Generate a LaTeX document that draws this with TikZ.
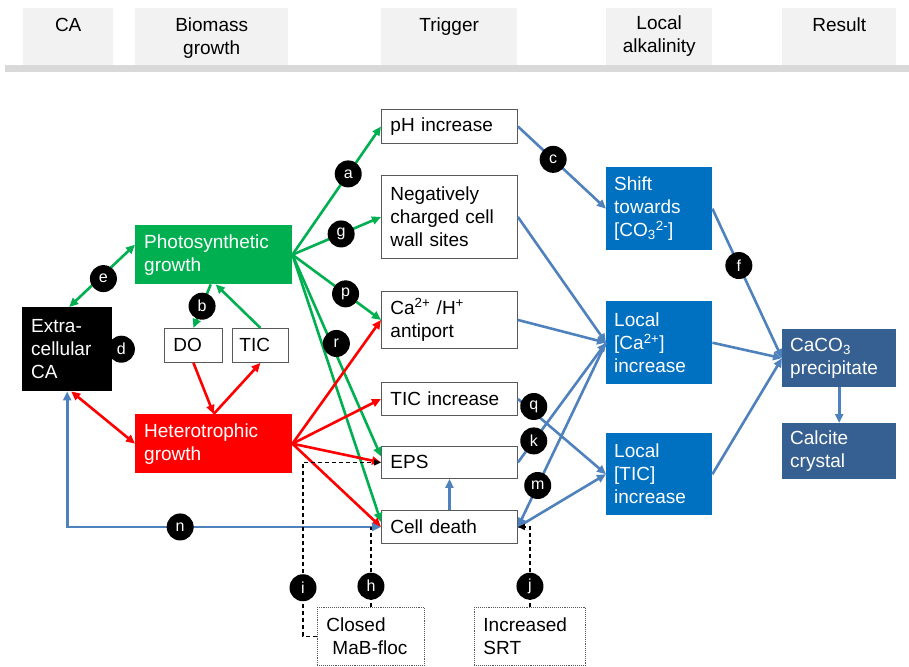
\documentclass[tikz,border=0pt]{standalone}
\usepackage{fontspec}
\setmainfont{Liberation Sans}
\usepackage{xcolor}
\usetikzlibrary{positioning,arrows.meta}

\definecolor{photogreen}{HTML}{00B050}
\definecolor{heterored}{HTML}{FF0000}
\definecolor{linkblue}{HTML}{4F81BD}
\definecolor{alkblue}{HTML}{0070C0}
\definecolor{resultblue}{HTML}{376092}
\definecolor{headgray}{HTML}{F2F2F2}
\definecolor{bargray}{HTML}{D9D9D9}
\definecolor{boxline}{HTML}{595959}

\tikzset{
  basebox/.style={anchor=north west, align=left, inner xsep=9pt, inner ysep=0pt,
    font=\fontsize{19}{23}\selectfont},
  trigger/.style={basebox, draw=boxline, line width=0.9pt, fill=white},
  factor/.style={basebox, draw=boxline, line width=0.9pt, densely dotted},
  growth/.style={basebox, text=white},
  headbox/.style={anchor=north west, fill=headgray, minimum height=57pt, inner sep=0pt},
  headtext/.style={anchor=north, align=center, inner sep=0pt, font=\fontsize{19}{23}\selectfont},
  lbl/.style={circle, fill=black, text=white, minimum size=27pt, inner sep=0pt,
    font=\fontsize{16}{16}\selectfont},
  link/.style={line width=2.6pt, -{Triangle[length=9pt,width=8pt]}},
  twoway/.style={line width=2.6pt, {Triangle[length=9pt,width=8pt]}-{Triangle[length=9pt,width=8pt]}},
  effect/.style={line width=1.5pt, dash pattern=on 4pt off 3pt, -{Triangle[length=7pt,width=6pt]}},
}

\begin{document}
\begin{tikzpicture}[x=1pt,y=-1pt]
    \useasboundingbox (0,0) rectangle (909,666);

    % Column headers
    \node[headbox, minimum width=90pt] (hca) at (23,8) {};
    \node[headbox, minimum width=153pt] (hbio) at (135,8) {};
    \node[headbox, minimum width=136pt] (htrig) at (381,8) {};
    \node[headbox, minimum width=106pt] (halk) at (606,8) {};
    \node[headbox, minimum width=114pt] (hres) at (782,8) {};
    \fill[bargray] (5,65) rectangle (909,72);
    \node[headtext] (tca) at ([yshift=-10pt]hca.north) {CA};
    \node[headtext] (tbio) at ([yshift=-10pt]hbio.north) {Biomass\\growth};
    \node[headtext] (ttrig) at ([yshift=-10pt]htrig.north) {Trigger};
    \node[headtext] (talk) at ([yshift=-8pt]halk.north) {Local\\alkalinity};
    \node[headtext] (tres) at ([yshift=-10pt]hres.north) {Result};

    % CA and biomass growth
    \node[growth, fill=black, text width=72pt, minimum height=84pt] (ca) at (22,307) {Extra-\\cellular\\CA};
    \node[growth, fill=photogreen, text width=139pt, minimum height=59pt] (photo) at (135,225) {Photosynthetic\\growth};
    \node[growth, fill=heterored, text width=139pt, minimum height=59pt] (hetero) at (135,414) {Heterotrophic\\growth};
    \node[trigger, text width=40pt, minimum height=34pt] (do) at (164,328) {DO};
    \node[trigger, inner xsep=7pt, text width=42pt, minimum height=34pt] (tic) at (232,328) {TIC};

    % Triggers
    \node[trigger, text width=118pt, minimum height=34pt] (ph) at (381,109) {pH increase};
    \node[trigger, text width=118pt, minimum height=83pt] (neg) at (381,175) {Negatively\\charged cell\\wall sites};
    \node[trigger, text width=118pt, minimum height=57pt] (anti) at (381,291) {Ca\textsuperscript{2+} /H\textsuperscript{+}\\antiport};
    \node[trigger, text width=118pt, minimum height=33pt] (ticinc) at (381,382) {TIC increase};
    \node[trigger, text width=118pt, minimum height=32pt] (eps) at (381,446) {EPS};
    \node[trigger, text width=118pt, minimum height=33pt] (death) at (381,510) {Cell death};

    % Operating conditions
    \node[factor, text width=89pt, minimum height=58pt] (floc) at (317,607) {Closed\\\hspace*{6pt}MaB-floc};
    \node[factor, text width=93pt, minimum height=58pt] (srt) at (474,607) {Increased\\SRT};

    % Local alkalinity
    \node[growth, fill=alkblue, inner xsep=8pt, text width=90pt, minimum height=83pt] (shift) at (606,167) {Shift\\towards\\{[}CO\textsubscript{3}\textsuperscript{2-}{]}};
    \node[growth, fill=alkblue, inner xsep=8pt, text width=90pt, minimum height=83pt] (lca) at (606,301) {Local\\{[}Ca\textsuperscript{2+}{]}\\increase};
    \node[growth, fill=alkblue, inner xsep=8pt, text width=90pt, minimum height=82pt] (ltic) at (606,433) {Local\\{[}TIC{]}\\increase};

    % Result
    \node[growth, fill=resultblue, inner xsep=8pt, text width=98pt, minimum height=58pt] (caco) at (782,329) {CaCO\textsubscript{3}\\precipitate};
    \node[growth, fill=resultblue, inner xsep=8pt, text width=98pt, minimum height=56pt] (calc) at (782,423) {Calcite\\crystal};

    % Photosynthetic links
    \draw[link, photogreen] (photo.east) -- ([yshift=5pt]death.west);
    \draw[link, photogreen] (photo.east) -- node[lbl, pos=0.44, xshift=5pt] (lr) {r} ([yshift=6pt]eps.west);
    \draw[link, photogreen] (photo.east) -- node[lbl, pos=0.63] (la) {a} (ph.west);
    \draw[link, photogreen] (photo.east) -- node[lbl, pos=0.55] (lg) {g} (neg.west);
    \draw[link, photogreen] (photo.east) -- node[lbl, pos=0.6] (lp) {p} (anti.west);
    \draw[twoway, photogreen] ([xshift=2pt]ca.north) -- node[lbl, pos=0.52, yshift=-4pt] (le) {e} ([yshift=10pt]photo.west);
    \draw[link, photogreen] ([xshift=-3pt]photo.south) -- node[lbl, pos=0.5] (lb) {b} (do.north);
    \draw[link, photogreen] (tic.north) -- ([xshift=2pt]photo.south);

    % Heterotrophic links
    \draw[link, heterored] (do.south) -- (hetero.north);
    \draw[link, heterored] (hetero.north) -- (tic.south);
    \draw[twoway, heterored] ([xshift=4pt]ca.south) -- (hetero.west);
    \draw[link, heterored] (hetero.east) -- (anti.west);
    \draw[link, heterored] (hetero.east) -- (ticinc.west);
    \draw[link, heterored] (hetero.east) -- (eps.west);
    \draw[link, heterored] (hetero.east) -- (death.west);

    % Alkalinity links
    \draw[link, linkblue] (ph.east) -- node[lbl, pos=0.4] (lc) {c} (shift.west);
    \draw[link, linkblue] (neg.east) -- (lca.west);
    \draw[link, linkblue] (anti.east) -- (lca.west);
    \draw[link, linkblue] (ticinc.east) -- node[lbl, pos=0.18, yshift=6pt] (lq) {q} (ltic.west);
    \draw[link, linkblue] (eps.east) -- node[lbl, pos=0.18] (lk) {k} (lca.west);
    \draw[link, linkblue] (lca.west) -- node[lbl, pos=0.775] (lm) {m} (death.east);
    \draw[link, linkblue] (death.east) -- (ltic.west);
    \draw[link, linkblue] (death.north) -- (eps.south);
    \draw[link, linkblue] (shift.east) -- node[lbl, pos=0.38] (lf) {f} (caco.west);
    \draw[link, linkblue] (lca.east) -- (caco.west);
    \draw[link, linkblue] (ltic.east) -- (caco.west);
    \draw[link, linkblue] (caco.south) -- (calc.north);
    \draw[twoway, linkblue] (ca.south) |- node[lbl, pos=0.68] (ln) {n} (death.west);

    % Operating conditions
    \draw[effect] (floc.west) -- ++(-14,0) |- node[lbl, pos=0.14] (li) {i} (eps.west);
    \draw[effect, -] (floc.north) -- node[lbl, pos=0.26] (lh) {h} (floc.north |- death.west);
    \draw[effect] (srt.north) |- node[lbl, pos=0.13] (lj) {j} (death.east);

    % Label sitting on the CA box
    \node[lbl] (ld) at ([xshift=9pt]ca.east) {d};
\end{tikzpicture}
\end{document}
